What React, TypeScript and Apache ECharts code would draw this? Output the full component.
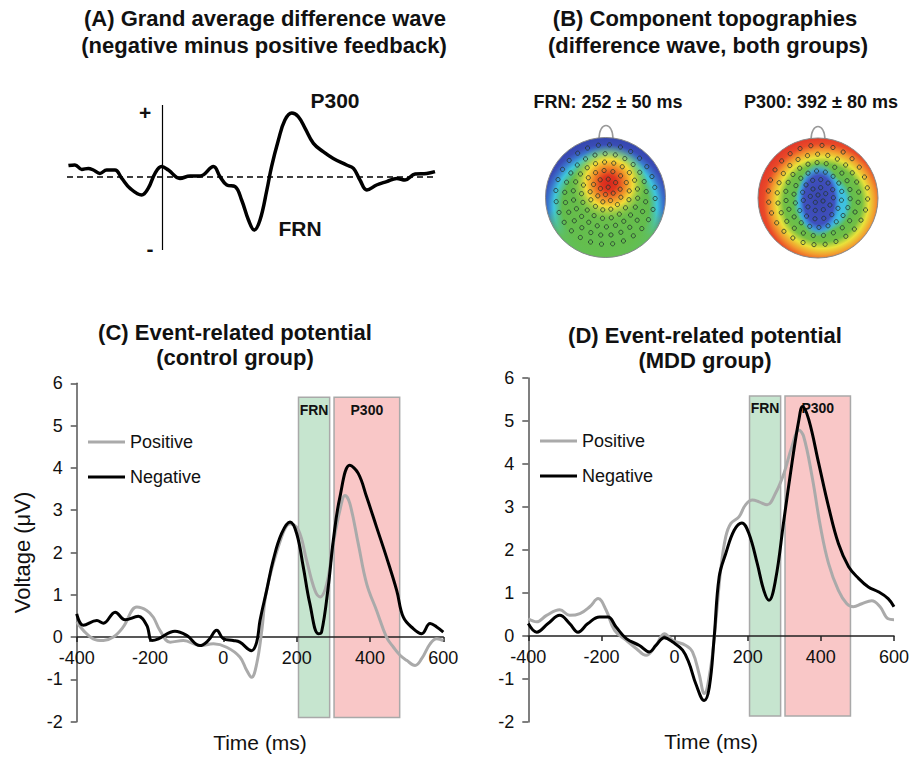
import React, { useEffect, useRef } from "react";
import * as echarts from "echarts";

const FONT = "'Liberation Sans', Arial, Helvetica, sans-serif";

// ---------- DATA ----------
// (A) grand average difference wave (negative minus positive), [ms, µV-like units]
const diffWave: [number, number][] = [
  [-261, 0.57], [-243, 0.6], [-224, 0.38], [-206, 0.43], [-192, 0.35], [-174, 0.18],
  [-155, 0.35], [-132, 0.35], [-113, -0.07], [-90, -0.57], [-58, -0.9], [-40, -0.57],
  [-21, 0.18], [-3, 0.52], [16, 0.35], [48, -0.07], [76, 0.05], [104, 0.05],
  [141, 0.52], [159, 0.02], [178, -0.4], [201, -0.48], [219, -1.15], [238, -2.15],
  [254, -2.65], [270, -2.15], [289, -0.65], [302, 0.52], [321, 1.85], [339, 2.85],
  [358, 3.2], [376, 3.02], [395, 2.43], [418, 1.68], [445, 1.27], [473, 0.93],
  [510, 0.6], [529, 0.43], [547, -0.15], [566, -0.65], [593, -0.4], [621, -0.23],
  [649, -0.07], [672, -0.15], [700, 0.15], [732, 0.18], [755, 0.27],
];

// (C) control group
const controlPositive: [number, number][] = [
  [-400, 0.36], [-382, 0.16], [-355, -0.04], [-327, -0.08], [-300, 0], [-273, 0.24],
  [-236, 0.71], [-209, 0.63], [-191, 0.47], [-173, 0.16], [-145, -0.12], [-109, -0.08],
  [-64, -0.2], [-27, -0.16], [9, -0.24], [45, -0.47], [64, -0.79], [77, -0.95],
  [91, -0.63], [105, 0.16], [118, 1.1], [159, 2.37], [182, 2.68], [205, 2.53],
  [227, 1.82], [250, 1.1], [264, 0.95], [282, 1.26], [300, 2.21], [318, 3.0],
  [332, 3.35], [345, 3.16], [368, 2.21], [391, 1.26], [418, 0.63], [445, 0],
  [464, -0.24], [482, -0.43], [500, -0.55], [523, -0.67], [541, -0.51], [564, -0.16],
  [582, -0.04], [600, -0.08],
];
const controlNegative: [number, number][] = [
  [-400, 0.55], [-382, 0.28], [-345, 0.39], [-327, 0.33], [-295, 0.59], [-268, 0.41],
  [-232, 0.49], [-209, 0.28], [-195, -0.08], [-177, -0.04], [-132, 0.14], [-100, 0.04],
  [-64, -0.2], [-41, -0.08], [-18, 0.16], [0, -0.04], [27, -0.08], [45, -0.12],
  [77, -0.32], [91, -0.12], [100, 0.39], [118, 1.1], [136, 1.82], [159, 2.45],
  [182, 2.72], [200, 2.45], [218, 1.66], [236, 0.79], [259, 0.08], [268, 0.12],
  [286, 1.18], [300, 2.29], [318, 3.31], [345, 4.06], [368, 3.87], [391, 3.31],
  [418, 2.6], [445, 1.89], [473, 1.1], [491, 0.47], [518, 0.2], [541, 0.08],
  [564, 0.32], [582, 0.24], [600, 0.12],
];

// (D) MDD group
const mddPositive: [number, number][] = [
  [-400, 0.4], [-377, 0.33], [-350, 0.48], [-314, 0.61], [-287, 0.48], [-259, 0.52],
  [-232, 0.68], [-209, 0.87], [-187, 0.6], [-164, 0.13], [-132, -0.1], [-105, -0.29],
  [-78, -0.45], [-51, -0.22], [-28, 0.05], [-5, -0.1], [31, -0.22], [49, -0.37],
  [67, -0.88], [81, -1.34], [99, -0.72], [113, 0.36], [126, 1.53], [140, 2.31],
  [154, 2.62], [176, 2.77], [194, 3.05], [213, 3.16], [231, 3.12], [253, 3.05],
  [276, 3.32], [299, 3.78], [321, 4.41], [340, 4.79], [353, 4.64], [376, 3.71],
  [399, 2.54], [421, 1.69], [448, 1.06], [471, 0.75], [489, 0.68], [512, 0.75],
  [539, 0.82], [562, 0.68], [584, 0.4], [600, 0.38],
];
const mddNegative: [number, number][] = [
  [-400, 0.29], [-377, 0.09], [-346, 0.29], [-314, 0.48], [-287, 0.29], [-264, 0.09],
  [-237, 0.29], [-205, 0.44], [-182, 0.44], [-160, 0.21], [-132, -0.06], [-96, -0.22],
  [-69, -0.37], [-51, -0.22], [-28, -0.04], [-5, -0.14], [22, -0.33], [40, -0.64],
  [58, -1.11], [81, -1.5], [95, -1.19], [108, -0.06], [122, 1.38], [140, 1.92],
  [163, 2.46], [184, 2.63], [203, 2.39], [226, 1.69], [244, 1.06], [258, 0.83],
  [276, 1.3], [299, 2.7], [321, 4.02], [340, 5.03], [350, 5.34], [367, 5.03],
  [394, 4.02], [421, 3.01], [448, 2.15], [476, 1.61], [503, 1.34], [530, 1.14],
  [557, 1.03], [584, 0.87], [600, 0.68],
];

// analysis windows (ms) and box extents (µV)
const frnWindow = [205, 290];
const p300Window = [302, 481];
const boxYControl = [-1.9, 5.67];
const boxYMdd = [-1.86, 5.58];

const timeRange = [-400, 600];
const timeStep = 200;
const voltRange = [-2, 6];
const voltStep = 1;

// decorative electrode layout: [radius fraction, count]
const electrodeRings: [number, number][] = [
  [0, 1], [0.13, 6], [0.26, 12], [0.4, 17], [0.54, 22], [0.68, 25], [0.83, 28],
];

// ---------- HELPERS ----------
function txt(x: number, y: number, t: string, size: number, weight = "bold", align = "center") {
  return {
    type: "text",
    x,
    y,
    silent: true,
    style: {
      text: t,
      fill: "#111",
      font: `${weight} ${size}px ${FONT}`,
      align,
      verticalAlign: "middle",
    },
  };
}

function layers(cx: number, cy: number, fills: any[]) {
  return fills.map((fill) => ({
    type: "circle",
    silent: true,
    shape: { cx, cy, r: 60 },
    style: { fill, stroke: "none" },
  }));
}

function electrodes(cx: number, cy: number, R: number) {
  const out: any[] = [];
  electrodeRings.forEach(([f, n], i) => {
    for (let k = 0; k < n; k++) {
      const a = (2 * Math.PI * k) / n + i * 0.35 - Math.PI / 2;
      out.push({
        type: "circle",
        silent: true,
        shape: { cx: cx + f * R * Math.cos(a), cy: cy + f * R * Math.sin(a), r: 2.1 },
        style: { fill: "none", stroke: "rgba(35,55,45,0.8)", lineWidth: 1 },
      });
    }
  });
  return out;
}

function nose(x: number, yBase: number) {
  return {
    type: "bezierCurve",
    silent: true,
    shape: { x1: x - 7, y1: yBase, x2: x + 7, y2: yBase, cpx1: x - 7, cpy1: yBase - 18, cpx2: x + 7, cpy2: yBase - 18 },
    style: { stroke: "#999", lineWidth: 1.5, fill: "none" },
  };
}

function radial(x: number, y: number, r: number, stops: [number, string][]) {
  return { type: "radial", x, y, r, colorStops: stops.map(([offset, color]) => ({ offset, color })) };
}
function linear(stops: [number, string][]) {
  return { type: "linear", x: 0, y: 0, x2: 0, y2: 1, colorStops: stops.map(([offset, color]) => ({ offset, color })) };
}

function buildGraphic() {
  const g: any[] = [];
  // titles
  g.push(txt(265, 18, "(A) Grand average difference wave", 22));
  g.push(txt(264, 45, "(negative minus positive feedback)", 22));
  g.push(txt(705, 18, "(B) Component topographies", 22));
  g.push(txt(708, 45, "(difference wave, both groups)", 22));
  g.push(txt(235, 332, "(C) Event-related potential", 22));
  g.push(txt(235, 357, "(control group)", 22));
  g.push(txt(705, 335, "(D) Event-related potential", 22));
  g.push(txt(705, 360, "(MDD group)", 22));
  // panel A labels
  g.push(txt(335, 100, "P300", 21));
  g.push(txt(300, 228, "FRN", 21));
  g.push(txt(145, 112, "+", 21));
  g.push(txt(150, 248, "-", 21));
  // topography labels
  g.push(txt(608, 102, "FRN: 252 ± 50 ms", 18));
  g.push(txt(821, 102, "P300: 392 ± 80 ms", 18));

  // FRN head
  const c1x = 605.5, c1y = 197.5;
  g.push(nose(606, 139));
  g.push(
    ...layers(c1x, c1y, [
      radial(0.5, 0.58, 0.58, [
        [0, "#72c046"], [0.62, "#62bc4c"], [0.74, "#3ec6dc"], [0.83, "#3a74cc"], [0.9, "#3a4cb6"], [1, "#3446ae"],
      ]),
      linear([[0, "rgba(100,190,78,0)"], [0.6, "rgba(100,190,78,0)"], [0.82, "rgba(100,190,78,0.9)"], [1, "rgba(100,190,78,1)"]]),
      radial(0.53, 0.38, 0.32, [
        [0, "#d5281e"], [0.2, "#e0361e"], [0.4, "#f08226"], [0.62, "#f2dc38"], [0.82, "rgba(170,210,70,0.5)"], [1, "rgba(120,195,70,0)"],
      ]),
    ])
  );
  g.push({ type: "circle", silent: true, shape: { cx: c1x, cy: c1y, r: 60 }, style: { fill: "none", stroke: "#888", lineWidth: 1 } });
  g.push(...electrodes(c1x, c1y - 3, 60));

  // P300 head
  const c2x = 818, c2y = 198;
  g.push(nose(818, 140));
  g.push(
    ...layers(c2x, c2y, [
      radial(0.54, 0.54, 0.56, [
        [0, "#44b8d8"], [0.34, "#3ec2e2"], [0.44, "#62bd4f"], [0.58, "#74c044"], [0.68, "#e9e23a"],
        [0.78, "#f29a2e"], [0.88, "#ea4a28"], [1, "#e0362a"],
      ]),
    ])
  );
  g.push({
    type: "circle",
    silent: true,
    x: 819,
    y: 200,
    scaleY: 1.6,
    originX: 0,
    originY: 0,
    shape: { cx: 0, cy: 0, r: 23 },
    style: {
      fill: radial(0.5, 0.5, 0.5, [
        [0, "#3a46ae"], [0.66, "#3f50be"], [0.82, "rgba(60,150,225,0.9)"], [1, "rgba(62,194,226,0)"],
      ]),
    },
  });
  g.push({ type: "circle", silent: true, shape: { cx: c2x, cy: c2y, r: 60 }, style: { fill: "none", stroke: "#888", lineWidth: 1 } });
  g.push(...electrodes(c2x, c2y - 3, 60));
  return g;
}

function erpXAxis(gridIndex: number, plotHeight: number) {
  // axis line sits at 0 µV: shift it up from the bottom of the plot
  const zeroOffset = -((0 - voltRange[0]) / (voltRange[1] - voltRange[0])) * plotHeight;
  return {
    gridIndex,
    type: "value",
    position: "bottom",
    offset: zeroOffset,
    min: timeRange[0],
    max: timeRange[1],
    interval: timeStep,
    z: 2,
    axisLine: { onZero: false, lineStyle: { color: "#222", width: 1.5 } },
    axisTick: { show: true, length: 5, lineStyle: { color: "#222", width: 1.5 } },
    axisLabel: { fontSize: 18, color: "#111", fontFamily: FONT, margin: 12 },
    splitLine: { show: false },
    name: "Time (ms)",
    nameLocation: "middle",
    nameGap: 95,
    nameTextStyle: { fontSize: 21, color: "#111", fontFamily: FONT },
  };
}
function erpYAxis(gridIndex: number, name: string) {
  return {
    gridIndex,
    type: "value",
    min: voltRange[0],
    max: voltRange[1],
    interval: voltStep,
    z: 2,
    axisLine: { show: true, onZero: false, lineStyle: { color: "#555", width: 1.5 } },
    axisTick: { show: true, length: 6, lineStyle: { color: "#555", width: 1.5 } },
    axisLabel: { fontSize: 18, color: "#111", fontFamily: FONT, margin: 14 },
    splitLine: { show: false },
    name,
    nameLocation: "middle",
    nameGap: 43,
    nameRotate: 90,
    nameTextStyle: { fontSize: 22, color: "#111", fontFamily: FONT },
  };
}

function boxSeries(idx: number, boxY: number[]) {
  return {
    type: "line",
    name: "windows" + idx,
    xAxisIndex: idx,
    yAxisIndex: idx,
    data: [],
    z: 1,
    silent: true,
    markArea: {
      silent: true,
      itemStyle: { borderColor: "#a9a9a9", borderWidth: 1.5 },
      label: { show: true, position: "insideTop", distance: 6, fontSize: 14, fontWeight: "bold", color: "#111", fontFamily: FONT },
      data: [
        [
          { name: "FRN", xAxis: frnWindow[0], yAxis: boxY[0], itemStyle: { color: "#c6e5cf" } },
          { xAxis: frnWindow[1], yAxis: boxY[1] },
        ],
        [
          { name: "P300", xAxis: p300Window[0], yAxis: boxY[0], itemStyle: { color: "#f9c7c7" } },
          { xAxis: p300Window[1], yAxis: boxY[1] },
        ],
      ],
    },
  };
}

function waveSeries(idx: number, name: string, data: [number, number][], color: string, z: number) {
  return {
    type: "line",
    name,
    xAxisIndex: idx,
    yAxisIndex: idx,
    data,
    smooth: 0.4,
    symbol: "none",
    z,
    lineStyle: { color, width: 3 },
    itemStyle: { color },
  };
}

function legend(left: number, top: number) {
  return {
    orient: "vertical",
    left,
    top,
    padding: 0,
    itemGap: 17,
    itemWidth: 37,
    itemHeight: 3,
    icon: "rect",
    selectedMode: false,
    textStyle: { fontSize: 18, color: "#111", fontFamily: FONT },
    data: ["Positive", "Negative"],
  };
}

function buildOption() {
  const hC = 338.4;
  const hD = 344;
  return {
    animation: false,
    backgroundColor: "#fff",
    textStyle: { fontFamily: FONT },
    grid: [
      { left: 67, top: 105, width: 368, height: 145 },
      { left: 76.7, top: 383.3, width: 366.6, height: hC },
      { left: 528.3, top: 378, width: 367.4, height: hD },
    ],
    xAxis: [
      { gridIndex: 0, type: "value", min: -265, max: 755, show: false },
      erpXAxis(1, hC),
      erpXAxis(2, hD),
    ],
    yAxis: [
      { gridIndex: 0, type: "value", min: -3.65, max: 3.6, show: false },
      erpYAxis(1, "Voltage (μV)"),
      erpYAxis(2, ""),
    ],
    legend: [legend(88, 433), legend(540, 432)],
    series: [
      {
        type: "line",
        name: "Difference",
        xAxisIndex: 0,
        yAxisIndex: 0,
        data: diffWave,
        smooth: 0.4,
        symbol: "none",
        lineStyle: { color: "#000", width: 3.5 },
        itemStyle: { color: "#000" },
        markLine: {
          silent: true,
          symbol: "none",
          label: { show: false },
          data: [
            { xAxis: 0, lineStyle: { color: "#000", width: 1.2, type: "solid" } },
            { yAxis: 0, lineStyle: { color: "#000", width: 1.5, type: [6, 4] } },
          ],
        },
      },
      boxSeries(1, boxYControl),
      waveSeries(1, "Positive", controlPositive, "#aaaaaa", 3),
      waveSeries(1, "Negative", controlNegative, "#000000", 4),
      boxSeries(2, boxYMdd),
      waveSeries(2, "Positive", mddPositive, "#aaaaaa", 3),
      waveSeries(2, "Negative", mddNegative, "#000000", 4),
    ],
    graphic: buildGraphic(),
  };
}

export default function App() {
  const ref = useRef<HTMLDivElement>(null);
  useEffect(() => {
    const chart = echarts.init(ref.current!, null, { renderer: "svg" });
    chart.setOption(buildOption() as any);
    return () => chart.dispose();
  }, []);
  return (
    <div
      ref={ref}
      style={{ position: "fixed", left: 0, top: 0, width: 912, height: 759, background: "#fff" }}
    />
  );
}
